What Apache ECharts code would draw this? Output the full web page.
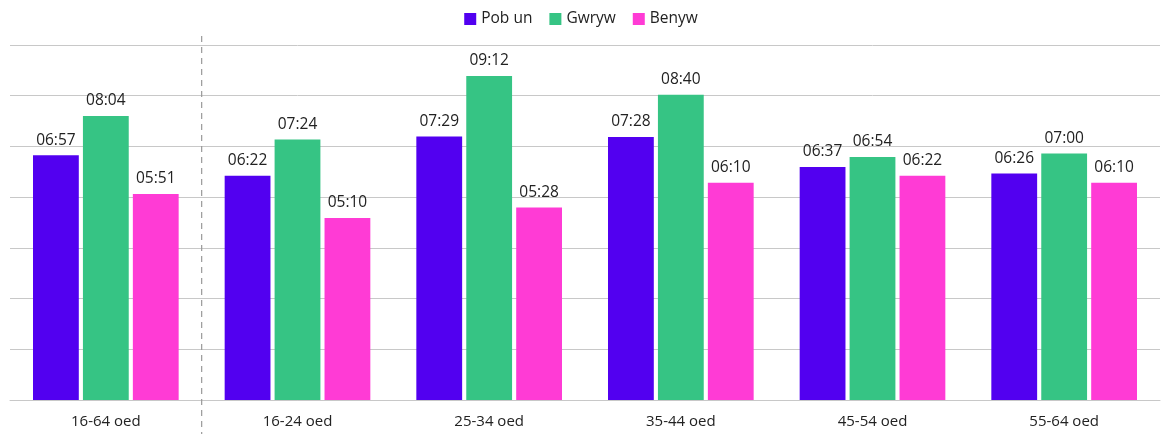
<!DOCTYPE html>
<html>
<head>
<meta charset="utf-8">
<script src="https://cdn.jsdelivr.net/npm/echarts@6/dist/echarts.min.js"></script>
<style>
  html, body { margin: 0; padding: 0; background: #fff; }
  #chart { width: 1162px; height: 434px; }
</style>
</head>
<body>
<div id="chart"></div>
<script>
const categories = ['16-64 oed', '16-24 oed', '25-34 oed', '35-44 oed', '45-54 oed', '55-64 oed'];
const seriesNames = ['Pob un', 'Gwryw', 'Benyw'];
const pobUn = ['06:57', '06:22', '07:29', '07:28', '06:37', '06:26'];
const gwryw = ['08:04', '07:24', '09:12', '08:40', '06:54', '07:00'];
const benyw = ['05:51', '05:10', '05:28', '06:10', '06:22', '06:10'];
const separatorAfter = 1;   // boundary position (in category units) of the dashed divider
const colors = ['#5200F0', '#36C484', '#FF3BD5'];

function toMin(s) { const p = s.split(':'); return (+p[0]) * 60 + (+p[1]); }
function toHHMM(m) {
  const h = Math.floor(m / 60), mm = Math.round(m - h * 60);
  return String(h).padStart(2, '0') + ':' + String(mm).padStart(2, '0');
}

const font = 'Open Sans';
const chart = echarts.init(document.getElementById('chart'), null, { renderer: 'canvas' });
const mk = (name, arr, i) => ({
  name, type: 'bar', data: arr.map(toMin), xAxisIndex: 0,
  itemStyle: { color: colors[i] },
  barGap: '9%', barCategoryGap: '24%',
  label: {
    show: true, position: 'top', distance: 7, color: '#222',
    fontFamily: font, fontSize: 15.5,
    formatter: p => toHHMM(p.value)
  }
});
chart.setOption({
  animation: false,
  textStyle: { fontFamily: font },
  legend: {
    top: 6, left: 'center', itemWidth: 12, itemHeight: 12, itemGap: 17,
    icon: 'rect', textStyle: { fontFamily: font, fontSize: 15.5, color: '#222' },
    data: seriesNames
  },
  grid: { left: 10, right: 2, top: 45, bottom: 34, containLabel: false },
  xAxis: [{
    type: 'category', data: categories,
    axisLine: { lineStyle: { color: '#c8c8c8', width: 1 } },
    axisTick: { show: false },
    axisLabel: { fontFamily: font, fontSize: 15, color: '#222', margin: 14 }
  }, {
    type: 'value', min: 0, max: categories.length, show: false
  }],
  yAxis: {
    type: 'value', min: 0, max: 604.8, interval: 86.4,
    axisLabel: { show: false }, axisLine: { show: false }, axisTick: { show: false },
    splitLine: { lineStyle: { color: '#c8c8c8', width: 1 } }
  },
  series: [
    mk(seriesNames[0], pobUn, 0), mk(seriesNames[1], gwryw, 1), mk(seriesNames[2], benyw, 2),
    {
      name: 'divider', type: 'line', xAxisIndex: 1, yAxisIndex: 0,
      data: [[separatorAfter, 620], [separatorAfter, -58]],
      symbol: 'none', silent: true, clip: false, z: 1,
      lineStyle: { color: '#999', type: [6, 5], width: 1.2 }
    }
  ]
});
</script>
</body>
</html>
